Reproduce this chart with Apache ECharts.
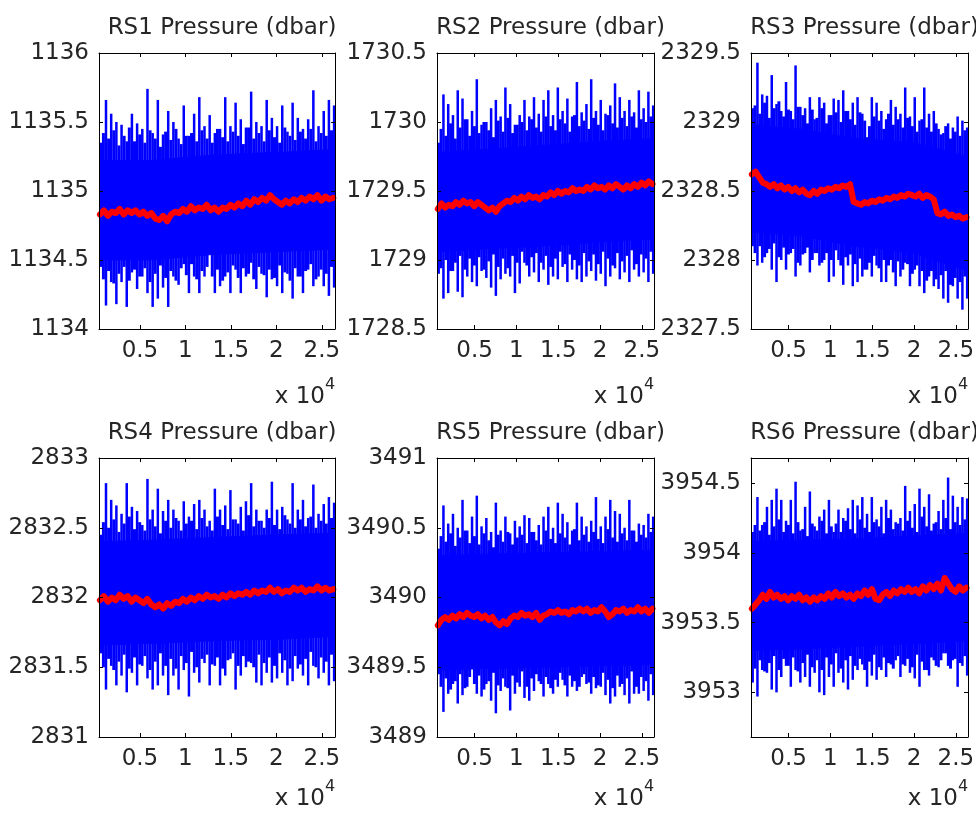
<!DOCTYPE html>
<html><head><meta charset="utf-8">
<script src="https://cdn.jsdelivr.net/npm/echarts@6.0.0/dist/echarts.min.js"></script>
<style>html,body{margin:0;padding:0;background:#fff}#c{width:976px;height:818px}</style>
</head><body><div id="c"></div>
<script>
// ---------- shared sample times ----------
const xMin = 500, xMax = 26450;
const xTicks = [5000, 10000, 15000, 20000, 25000];
const tSpike = [700, 1270, 1840, 2410, 2980, 3550, 4120, 4690, 5260, 5830,
  6400, 6970, 7540, 8110, 8680, 9250, 9820, 10390, 10960, 11530,
  12100, 12670, 13240, 13810, 14380, 14950, 15520, 16090, 16660, 17230,
  17800, 18370, 18940, 19510, 20080, 20650, 21220, 21790, 22360, 22930,
  23500, 24070, 24640, 25210, 25780, 26350];
const tShoulder = [985, 1555, 2125, 2695, 3265, 3835, 4405, 4975, 5545, 6115,
  6685, 7255, 7825, 8395, 8965, 9535, 10105, 10675, 11245, 11815,
  12385, 12955, 13525, 14095, 14665, 15235, 15805, 16375, 16945, 17515,
  18085, 18655, 19225, 19795, 20365, 20935, 21505, 22075, 22645, 23215,
  23785, 24355, 24925, 25495, 26065];
const tRed = [600, 1035, 1470, 1905, 2340, 2775, 3210, 3645, 4080, 4515,
  4950, 5385, 5820, 6255, 6690, 7125, 7560, 7995, 8430, 8865,
  9300, 9735, 10170, 10605, 11040, 11475, 11910, 12345, 12780, 13215,
  13650, 14085, 14520, 14955, 15390, 15825, 16260, 16695, 17130, 17565,
  18000, 18435, 18870, 19305, 19740, 20175, 20610, 21045, 21480, 21915,
  22350, 22785, 23220, 23655, 24090, 24525, 24960, 25395, 25830, 26265];
const tCore = [550, 6000, 13000, 20000, 26400];

// ---------- RS1 ----------
const rs1Range = [1134, 1136];
const rs1Ticks = [1134, 1134.5, 1135, 1135.5, 1136];
const rs1Hi = [1135.35, 1135.66, 1135.56, 1135.5, 1135.48, 1135.36, 1135.56, 1135.49, 1135.45, 1135.74,
  1135.42, 1135.66, 1135.41, 1135.58, 1135.5, 1135.38, 1135.62, 1135.4, 1135.56, 1135.68,
  1135.47, 1135.55, 1135.42, 1135.45, 1135.68, 1135.47, 1135.64, 1135.52, 1135.46, 1135.72,
  1135.5, 1135.47, 1135.66, 1135.53, 1135.47, 1135.62, 1135.43, 1135.64, 1135.53, 1135.45,
  1135.52, 1135.73, 1135.47, 1135.58, 1135.66, 1135.62];
const rs1Lo = [1134.45, 1134.17, 1134.34, 1134.18, 1134.34, 1134.16, 1134.41, 1134.29, 1134.38, 1134.26,
  1134.16, 1134.22, 1134.3, 1134.16, 1134.38, 1134.32, 1134.47, 1134.26, 1134.38, 1134.26,
  1134.38, 1134.55, 1134.26, 1134.31, 1134.38, 1134.26, 1134.43, 1134.26, 1134.38, 1134.48,
  1134.29, 1134.4, 1134.23, 1134.36, 1134.31, 1134.26, 1134.4, 1134.22, 1134.38, 1134.26,
  1134.43, 1134.31, 1134.38, 1134.31, 1134.24, 1134.3];
const rs1Hi2 = [1135.42, 1135.38, 1135.44, 1135.33, 1135.4, 1135.46, 1135.36, 1135.41, 1135.35, 1135.44,
  1135.38, 1135.32, 1135.43, 1135.37, 1135.45, 1135.34, 1135.4, 1135.42, 1135.36, 1135.44,
  1135.38, 1135.35, 1135.45, 1135.39, 1135.36, 1135.43, 1135.4, 1135.34, 1135.46, 1135.38,
  1135.42, 1135.36, 1135.44, 1135.39, 1135.35, 1135.46, 1135.4, 1135.37, 1135.43, 1135.38,
  1135.45, 1135.36, 1135.42, 1135.4, 1135.44];
const rs1Lo2 = [1134.36, 1134.42, 1134.33, 1134.4, 1134.45, 1134.35, 1134.43, 1134.38, 1134.44, 1134.34,
  1134.4, 1134.46, 1134.37, 1134.42, 1134.35, 1134.44, 1134.39, 1134.47, 1134.36, 1134.42,
  1134.45, 1134.38, 1134.43, 1134.35, 1134.41, 1134.46, 1134.37, 1134.44, 1134.4, 1134.36,
  1134.45, 1134.39, 1134.43, 1134.37, 1134.46, 1134.41, 1134.35, 1134.44, 1134.38, 1134.42,
  1134.47, 1134.36, 1134.43, 1134.4, 1134.45];
const rs1CoreHi = [1135.22, 1135.22, 1135.26, 1135.28, 1135.3];
const rs1CoreLo = [1134.5, 1134.5, 1134.54, 1134.56, 1134.58];
const rs1Red = [1134.83, 1134.86, 1134.82, 1134.85, 1134.84, 1134.87, 1134.83, 1134.86, 1134.84, 1134.86,
  1134.83, 1134.85, 1134.82, 1134.84, 1134.8, 1134.79, 1134.82, 1134.78, 1134.83, 1134.85,
  1134.84, 1134.87, 1134.85, 1134.89, 1134.86, 1134.88, 1134.87, 1134.9, 1134.86, 1134.88,
  1134.85, 1134.88, 1134.87, 1134.9, 1134.88, 1134.91, 1134.89, 1134.93, 1134.9, 1134.94,
  1134.92, 1134.95, 1134.93, 1134.97, 1134.94, 1134.92, 1134.9, 1134.93, 1134.91, 1134.94,
  1134.92, 1134.95, 1134.93, 1134.96, 1134.94, 1134.97, 1134.93, 1134.96, 1134.94, 1134.95];

// ---------- RS2 ----------
const rs2Range = [1728.5, 1730.5];
const rs2Ticks = [1728.5, 1729, 1729.5, 1730, 1730.5];
const rs2Hi = [1729.85, 1730.2, 1730.13, 1730.05, 1730.23, 1730.17, 1730.02, 1730.08, 1730.31, 1729.98,
  1730.0, 1730.1, 1730.16, 1730.04, 1730.25, 1730.13, 1729.98, 1730.05, 1730.16, 1730.04,
  1730.18, 1730.06, 1730.16, 1730.23, 1730.05, 1730.25, 1730.08, 1730.17, 1730.04, 1730.29,
  1730.07, 1730.13, 1730.31, 1730.08, 1730.16, 1730.06, 1730.12, 1730.28, 1730.18, 1730.08,
  1730.16, 1730.07, 1730.23, 1730.1, 1730.22, 1730.12];
const rs2Lo = [1728.9, 1728.72, 1728.76, 1728.92, 1728.77, 1728.73, 1728.88, 1728.84, 1728.81, 1728.92,
  1728.87, 1728.8, 1728.74, 1728.86, 1728.9, 1728.88, 1728.76, 1728.83, 1728.98, 1728.88,
  1728.91, 1728.84, 1728.93, 1728.82, 1728.88, 1728.86, 1728.95, 1728.84, 1728.93, 1728.86,
  1728.84, 1728.88, 1728.92, 1728.85, 1728.9, 1728.81, 1728.88, 1728.94, 1728.86, 1728.91,
  1728.84, 1728.93, 1728.88, 1728.91, 1728.84, 1728.9];
const rs2Hi2 = [1729.95, 1729.9, 1729.99, 1729.88, 1729.96, 1730.02, 1729.9, 1729.97, 1729.92, 1730.0,
  1729.94, 1729.89, 1730.01, 1729.93, 1730.03, 1729.92, 1729.98, 1730.0, 1729.94, 1730.02,
  1729.96, 1729.93, 1730.04, 1729.97, 1729.94, 1730.02, 1729.99, 1729.93, 1730.05, 1729.97,
  1730.01, 1729.95, 1730.03, 1729.98, 1729.94, 1730.05, 1729.99, 1729.96, 1730.03, 1729.97,
  1730.04, 1729.96, 1730.02, 1730.0, 1730.04];
const rs2Lo2 = [1728.94, 1729.0, 1728.92, 1728.98, 1729.03, 1728.93, 1729.01, 1728.96, 1729.02, 1728.93,
  1728.99, 1729.04, 1728.95, 1729.01, 1728.94, 1729.03, 1728.98, 1729.06, 1728.96, 1729.02,
  1729.05, 1728.98, 1729.03, 1728.95, 1729.01, 1729.06, 1728.97, 1729.04, 1729.0, 1728.96,
  1729.05, 1728.99, 1729.04, 1728.97, 1729.06, 1729.01, 1728.96, 1729.05, 1728.99, 1729.03,
  1729.07, 1728.97, 1729.04, 1729.01, 1729.06];
const rs2CoreHi = [1729.78, 1729.8, 1729.83, 1729.86, 1729.88];
const rs2CoreLo = [1729.06, 1729.08, 1729.1, 1729.13, 1729.15];
const rs2Red = [1729.37, 1729.41, 1729.38, 1729.4, 1729.39, 1729.42, 1729.4, 1729.43, 1729.41, 1729.42,
  1729.39, 1729.42, 1729.4, 1729.38, 1729.36, 1729.38, 1729.35, 1729.39, 1729.41, 1729.43,
  1729.42, 1729.45, 1729.43, 1729.46, 1729.44, 1729.47, 1729.45, 1729.46, 1729.44, 1729.47,
  1729.46, 1729.49, 1729.47, 1729.5, 1729.48, 1729.5, 1729.49, 1729.52, 1729.5, 1729.51,
  1729.5, 1729.53, 1729.51, 1729.54, 1729.52, 1729.53, 1729.51, 1729.54, 1729.52, 1729.55,
  1729.53, 1729.51, 1729.54, 1729.52, 1729.55, 1729.53, 1729.56, 1729.54, 1729.57, 1729.55];

// ---------- RS3 ----------
const rs3Range = [2327.5, 2329.5];
const rs3Ticks = [2327.5, 2328, 2328.5, 2329, 2329.5];
const rs3Hi = [2329.1, 2329.43, 2329.2, 2329.19, 2329.34, 2329.13, 2329.08, 2329.29, 2329.08, 2329.41,
  2329.11, 2329.1, 2329.18, 2329.02, 2329.18, 2329.14, 2329.05, 2329.17, 2329.16, 2329.23,
  2329.08, 2329.14, 2329.18, 2329.06, 2328.89, 2329.18, 2329.14, 2329.08, 2329.02, 2329.16,
  2329.11, 2329.06, 2329.25, 2329.04, 2329.18, 2329.01, 2329.25, 2329.06, 2329.08, 2328.95,
  2328.92, 2328.99, 2328.96, 2329.04, 2329.01, 2328.96];
const rs3Lo = [2328.1, 2327.96, 2327.98, 2328.05, 2327.93, 2327.84, 2328.0, 2327.93, 2328.05, 2327.88,
  2327.96, 2328.05, 2327.91, 2328.05, 2327.96, 2328.0, 2327.84, 2327.88, 2328.0, 2327.82,
  2327.96, 2327.81, 2327.84, 2327.88, 2327.93, 2327.88, 2327.96, 2327.84, 2327.84, 2328.0,
  2327.81, 2327.88, 2327.98, 2327.81, 2327.93, 2327.81, 2327.76, 2327.88, 2327.81, 2327.79,
  2327.72, 2327.69, 2327.81, 2327.72, 2327.64, 2327.72];
const rs3Hi2 = [2329.12, 2329.06, 2329.14, 2329.03, 2329.1, 2329.15, 2329.04, 2329.09, 2329.02, 2329.11,
  2329.05, 2328.99, 2329.09, 2329.03, 2329.1, 2328.99, 2329.05, 2329.07, 2329.0, 2329.08,
  2329.02, 2328.98, 2329.07, 2329.01, 2328.97, 2329.04, 2329.01, 2328.95, 2329.06, 2328.98,
  2329.02, 2328.96, 2329.03, 2328.97, 2328.93, 2329.02, 2328.96, 2328.93, 2328.99, 2328.91,
  2328.97, 2328.88, 2328.93, 2328.9, 2328.94];
const rs3Lo2 = [2328.05, 2328.1, 2328.02, 2328.08, 2328.12, 2328.02, 2328.09, 2328.04, 2328.08, 2327.98,
  2328.04, 2328.09, 2328.0, 2328.05, 2327.98, 2328.05, 2328.0, 2328.07, 2327.96, 2328.02,
  2328.04, 2327.97, 2328.01, 2327.93, 2327.98, 2328.03, 2327.94, 2328.0, 2327.96, 2327.91,
  2327.99, 2327.93, 2327.97, 2327.9, 2327.96, 2327.92, 2327.85, 2327.92, 2327.86, 2327.89,
  2327.92, 2327.82, 2327.87, 2327.84, 2327.88];
const rs3CoreHi = [2328.98, 2328.95, 2328.88, 2328.85, 2328.75];
const rs3CoreLo = [2328.2, 2328.18, 2328.1, 2328.05, 2327.92];
const rs3Red = [2328.62, 2328.64, 2328.6, 2328.56, 2328.55, 2328.53, 2328.55, 2328.52, 2328.54, 2328.51,
  2328.53, 2328.5, 2328.52, 2328.49, 2328.51, 2328.48, 2328.47, 2328.5, 2328.48, 2328.51,
  2328.5, 2328.52, 2328.51, 2328.53, 2328.52, 2328.54, 2328.53, 2328.55, 2328.42, 2328.41,
  2328.4, 2328.42, 2328.41, 2328.43, 2328.42, 2328.44, 2328.43, 2328.45, 2328.44, 2328.46,
  2328.45, 2328.47, 2328.46, 2328.48, 2328.47, 2328.46, 2328.48, 2328.45, 2328.47, 2328.46,
  2328.44, 2328.34, 2328.33, 2328.35, 2328.32, 2328.33, 2328.31, 2328.32, 2328.3, 2328.31];

// ---------- RS4 ----------
const rs4Range = [2831, 2833];
const rs4Ticks = [2831, 2831.5, 2832, 2832.5, 2833];
const rs4Hi = [2832.45, 2832.82, 2832.7, 2832.66, 2832.6, 2832.82, 2832.65, 2832.62, 2832.52, 2832.85,
  2832.63, 2832.78, 2832.62, 2832.7, 2832.63, 2832.55, 2832.69, 2832.58, 2832.67, 2832.7,
  2832.63, 2832.55, 2832.78, 2832.63, 2832.66, 2832.77, 2832.56, 2832.65, 2832.69, 2832.82,
  2832.63, 2832.55, 2832.63, 2832.83, 2832.63, 2832.65, 2832.56, 2832.82, 2832.63, 2832.7,
  2832.57, 2832.81, 2832.6, 2832.67, 2832.72, 2832.68];
const rs4Lo = [2831.6, 2831.34, 2831.51, 2831.37, 2831.44, 2831.32, 2831.46, 2831.37, 2831.51, 2831.42,
  2831.34, 2831.37, 2831.44, 2831.3, 2831.44, 2831.34, 2831.48, 2831.29, 2831.46, 2831.39,
  2831.53, 2831.37, 2831.51, 2831.37, 2831.44, 2831.56, 2831.34, 2831.44, 2831.5, 2831.53,
  2831.39, 2831.37, 2831.46, 2831.39, 2831.42, 2831.46, 2831.37, 2831.4, 2831.49, 2831.44,
  2831.37, 2831.51, 2831.42, 2831.46, 2831.37, 2831.4];
const rs4Hi2 = [2832.54, 2832.5, 2832.56, 2832.47, 2832.53, 2832.58, 2832.49, 2832.54, 2832.48, 2832.56,
  2832.51, 2832.46, 2832.55, 2832.5, 2832.57, 2832.48, 2832.53, 2832.55, 2832.49, 2832.57,
  2832.51, 2832.48, 2832.58, 2832.52, 2832.49, 2832.56, 2832.53, 2832.48, 2832.59, 2832.51,
  2832.55, 2832.5, 2832.57, 2832.52, 2832.49, 2832.59, 2832.53, 2832.5, 2832.56, 2832.51,
  2832.58, 2832.5, 2832.55, 2832.53, 2832.57];
const rs4Lo2 = [2831.5, 2831.56, 2831.48, 2831.54, 2831.59, 2831.49, 2831.57, 2831.52, 2831.58, 2831.48,
  2831.54, 2831.6, 2831.51, 2831.56, 2831.49, 2831.58, 2831.53, 2831.61, 2831.5, 2831.56,
  2831.59, 2831.52, 2831.57, 2831.49, 2831.55, 2831.6, 2831.51, 2831.58, 2831.54, 2831.5,
  2831.59, 2831.53, 2831.57, 2831.51, 2831.6, 2831.55, 2831.49, 2831.58, 2831.52, 2831.56,
  2831.61, 2831.5, 2831.57, 2831.54, 2831.59];
const rs4CoreHi = [2832.4, 2832.41, 2832.43, 2832.45, 2832.46];
const rs4CoreLo = [2831.66, 2831.67, 2831.69, 2831.7, 2831.72];
const rs4Red = [2831.98, 2832.01, 2831.97, 2832.0, 2831.98, 2832.02, 2831.99, 2832.01, 2831.97, 2832.0,
  2831.98, 2831.96, 2831.99, 2831.95, 2831.93, 2831.95, 2831.92, 2831.96, 2831.94, 2831.97,
  2831.96, 2831.99, 2831.97, 2832.0, 2831.98, 2832.01, 2831.99, 2832.02, 2832.0, 2832.01,
  2831.99, 2832.02, 2832.0, 2832.03, 2832.01, 2832.03, 2832.02, 2832.04, 2832.02, 2832.05,
  2832.03, 2832.05, 2832.04, 2832.07, 2832.04, 2832.06, 2832.03, 2832.05, 2832.04, 2832.07,
  2832.05, 2832.07, 2832.04, 2832.06, 2832.05, 2832.08, 2832.05, 2832.07, 2832.05, 2832.06];

// ---------- RS5 ----------
const rs5Range = [3489, 3491];
const rs5Ticks = [3489, 3489.5, 3490, 3490.5, 3491];
const rs5Hi = [3490.35, 3490.66, 3490.53, 3490.6, 3490.5, 3490.7, 3490.48, 3490.58, 3490.73, 3490.51,
  3490.57, 3490.47, 3490.68, 3490.48, 3490.58, 3490.46, 3490.55, 3490.51, 3490.59, 3490.57,
  3490.47, 3490.52, 3490.58, 3490.65, 3490.5, 3490.68, 3490.6, 3490.54, 3490.48, 3490.68,
  3490.58, 3490.51, 3490.55, 3490.72, 3490.51, 3490.58, 3490.7, 3490.62, 3490.6, 3490.5,
  3490.7, 3490.48, 3490.53, 3490.52, 3490.6, 3490.58];
const rs5Lo = [3489.45, 3489.18, 3489.31, 3489.38, 3489.24, 3489.3, 3489.36, 3489.5, 3489.31, 3489.29,
  3489.38, 3489.26, 3489.17, 3489.33, 3489.36, 3489.19, 3489.31, 3489.36, 3489.28, 3489.26,
  3489.33, 3489.4, 3489.29, 3489.38, 3489.31, 3489.36, 3489.41, 3489.29, 3489.36, 3489.33,
  3489.43, 3489.38, 3489.31, 3489.35, 3489.36, 3489.3, 3489.24, 3489.29, 3489.36, 3489.3,
  3489.24, 3489.31, 3489.31, 3489.33, 3489.26, 3489.3];
const rs5Hi2 = [3490.44, 3490.4, 3490.46, 3490.37, 3490.43, 3490.48, 3490.39, 3490.44, 3490.38, 3490.46,
  3490.41, 3490.36, 3490.45, 3490.4, 3490.47, 3490.38, 3490.43, 3490.45, 3490.39, 3490.47,
  3490.41, 3490.38, 3490.48, 3490.42, 3490.39, 3490.46, 3490.43, 3490.38, 3490.49, 3490.41,
  3490.45, 3490.4, 3490.47, 3490.42, 3490.39, 3490.49, 3490.43, 3490.4, 3490.46, 3490.41,
  3490.48, 3490.4, 3490.45, 3490.43, 3490.47];
const rs5Lo2 = [3489.36, 3489.42, 3489.34, 3489.4, 3489.45, 3489.35, 3489.43, 3489.38, 3489.44, 3489.34,
  3489.4, 3489.46, 3489.37, 3489.42, 3489.35, 3489.44, 3489.39, 3489.47, 3489.36, 3489.42,
  3489.45, 3489.38, 3489.43, 3489.35, 3489.41, 3489.46, 3489.37, 3489.44, 3489.4, 3489.36,
  3489.45, 3489.39, 3489.43, 3489.37, 3489.46, 3489.41, 3489.35, 3489.44, 3489.38, 3489.42,
  3489.47, 3489.36, 3489.43, 3489.4, 3489.45];
const rs5CoreHi = [3490.3, 3490.31, 3490.32, 3490.33, 3490.34];
const rs5CoreLo = [3489.48, 3489.49, 3489.5, 3489.51, 3489.52];
const rs5Red = [3489.8, 3489.84, 3489.86, 3489.84, 3489.87, 3489.85, 3489.88, 3489.86, 3489.89, 3489.87,
  3489.86, 3489.88, 3489.85, 3489.87, 3489.84, 3489.86, 3489.82, 3489.8, 3489.83, 3489.81,
  3489.85, 3489.87, 3489.86, 3489.89, 3489.87, 3489.88, 3489.86, 3489.89, 3489.84, 3489.87,
  3489.88, 3489.9, 3489.89, 3489.91, 3489.89, 3489.9, 3489.88, 3489.91, 3489.9, 3489.92,
  3489.9, 3489.92, 3489.89, 3489.91, 3489.9, 3489.93, 3489.9, 3489.86, 3489.88, 3489.91,
  3489.9, 3489.92, 3489.89, 3489.91, 3489.9, 3489.93, 3489.9, 3489.92, 3489.89, 3489.92];

// ---------- RS6 ----------
const rs6Range = [3952.68, 3954.68];
const rs6Ticks = [3953, 3953.5, 3954, 3954.5];
const rs6Hi = [3954.15, 3954.4, 3954.2, 3954.33, 3954.38, 3954.46, 3954.38, 3954.23, 3954.38, 3954.51,
  3954.16, 3954.33, 3954.44, 3954.19, 3954.26, 3954.31, 3954.38, 3954.15, 3954.31, 3954.25,
  3954.32, 3954.38, 3954.34, 3954.4, 3954.28, 3954.4, 3954.24, 3954.33, 3954.38, 3954.31,
  3954.22, 3954.25, 3954.48, 3954.3, 3954.35, 3954.46, 3954.33, 3954.42, 3954.21, 3954.3,
  3954.38, 3954.54, 3954.41, 3954.33, 3954.4, 3954.39];
const rs6Lo = [3953.07, 3952.97, 3953.16, 3953.14, 3953.02, 3953.0, 3953.11, 3953.19, 3953.04, 3953.16,
  3953.07, 3953.11, 3953.04, 3953.14, 3953.0, 3952.98, 3953.11, 3953.04, 3953.14, 3953.07,
  3953.02, 3953.09, 3953.16, 3953.2, 3953.04, 3953.12, 3953.09, 3953.16, 3953.11, 3953.2,
  3953.23, 3953.11, 3953.19, 3953.14, 3953.1, 3953.04, 3953.16, 3953.12, 3953.23, 3953.18,
  3953.28, 3953.19, 3953.23, 3953.04, 3953.19, 3953.12];
const rs6Hi2 = [3954.2, 3954.16, 3954.22, 3954.13, 3954.19, 3954.24, 3954.15, 3954.2, 3954.14, 3954.22,
  3954.17, 3954.12, 3954.21, 3954.16, 3954.23, 3954.14, 3954.19, 3954.21, 3954.15, 3954.23,
  3954.17, 3954.14, 3954.24, 3954.18, 3954.15, 3954.22, 3954.19, 3954.14, 3954.25, 3954.17,
  3954.21, 3954.16, 3954.23, 3954.18, 3954.15, 3954.26, 3954.19, 3954.16, 3954.22, 3954.17,
  3954.25, 3954.17, 3954.22, 3954.2, 3954.24];
const rs6Lo2 = [3953.17, 3953.23, 3953.15, 3953.21, 3953.26, 3953.16, 3953.24, 3953.19, 3953.25, 3953.15,
  3953.21, 3953.27, 3953.18, 3953.23, 3953.16, 3953.25, 3953.2, 3953.28, 3953.17, 3953.23,
  3953.26, 3953.19, 3953.24, 3953.16, 3953.22, 3953.27, 3953.18, 3953.25, 3953.21, 3953.17,
  3953.26, 3953.2, 3953.24, 3953.18, 3953.27, 3953.22, 3953.16, 3953.25, 3953.19, 3953.23,
  3953.28, 3953.17, 3953.24, 3953.21, 3953.26];
const rs6CoreHi = [3954.08, 3954.09, 3954.1, 3954.12, 3954.14];
const rs6CoreLo = [3953.3, 3953.31, 3953.33, 3953.35, 3953.37];
const rs6Red = [3953.6, 3953.63, 3953.66, 3953.7, 3953.67, 3953.72, 3953.68, 3953.7, 3953.67, 3953.69,
  3953.66, 3953.69, 3953.67, 3953.7, 3953.66, 3953.68, 3953.65, 3953.68, 3953.66, 3953.69,
  3953.67, 3953.71, 3953.68, 3953.72, 3953.69, 3953.71, 3953.68, 3953.7, 3953.67, 3953.71,
  3953.69, 3953.73, 3953.7, 3953.74, 3953.67, 3953.66, 3953.7, 3953.72, 3953.69, 3953.73,
  3953.71, 3953.74, 3953.72, 3953.75, 3953.72, 3953.74, 3953.71, 3953.76, 3953.73, 3953.77,
  3953.74, 3953.78, 3953.73, 3953.82, 3953.78, 3953.74, 3953.72, 3953.76, 3953.73, 3953.75];

const titles = ['RS1 Pressure (dbar)', 'RS2 Pressure (dbar)', 'RS3 Pressure (dbar)',
  'RS4 Pressure (dbar)', 'RS5 Pressure (dbar)', 'RS6 Pressure (dbar)'];

// ---------- layout (pixels) ----------
const layout = [
  {left: 99, top: 53, width: 236, height: 276, expY: 397},
  {left: 437, top: 53, width: 217, height: 276, expY: 397},
  {left: 751, top: 53, width: 217, height: 276, expY: 397},
  {left: 99, top: 458, width: 236, height: 279, expY: 799},
  {left: 437, top: 458, width: 217, height: 279, expY: 799},
  {left: 751, top: 458, width: 217, height: 279, expY: 799}
];

const panels = [
  {range: rs1Range, ticks: rs1Ticks, hi: rs1Hi, lo: rs1Lo, hi2: rs1Hi2, lo2: rs1Lo2, coreHi: rs1CoreHi, coreLo: rs1CoreLo, red: rs1Red},
  {range: rs2Range, ticks: rs2Ticks, hi: rs2Hi, lo: rs2Lo, hi2: rs2Hi2, lo2: rs2Lo2, coreHi: rs2CoreHi, coreLo: rs2CoreLo, red: rs2Red},
  {range: rs3Range, ticks: rs3Ticks, hi: rs3Hi, lo: rs3Lo, hi2: rs3Hi2, lo2: rs3Lo2, coreHi: rs3CoreHi, coreLo: rs3CoreLo, red: rs3Red},
  {range: rs4Range, ticks: rs4Ticks, hi: rs4Hi, lo: rs4Lo, hi2: rs4Hi2, lo2: rs4Lo2, coreHi: rs4CoreHi, coreLo: rs4CoreLo, red: rs4Red},
  {range: rs5Range, ticks: rs5Ticks, hi: rs5Hi, lo: rs5Lo, hi2: rs5Hi2, lo2: rs5Lo2, coreHi: rs5CoreHi, coreLo: rs5CoreLo, red: rs5Red},
  {range: rs6Range, ticks: rs6Ticks, hi: rs6Hi, lo: rs6Lo, hi2: rs6Hi2, lo2: rs6Lo2, coreHi: rs6CoreHi, coreLo: rs6CoreLo, red: rs6Red}
];

const FONT = "'DejaVu Sans', sans-serif";
const TXT = '#262626';
const BLUE = '#0000ff', RED = '#ff0000';

const option = {animation: false, backgroundColor: '#fff', title: [], grid: [], xAxis: [], yAxis: [], series: [], graphic: []};

function spikeSeries(g, times, lo, hi, width) {
  return {type: 'custom', xAxisIndex: 2 * g, yAxisIndex: 2 * g, clip: true, silent: true,
    data: times.map((t, i) => [t, lo[i], hi[i]]),
    encode: {x: 0, y: [1, 2]},
    renderItem: (params, api) => {
      const a = api.coord([api.value(0), api.value(1)]);
      const b = api.coord([api.value(0), api.value(2)]);
      return {type: 'line', shape: {x1: a[0], y1: a[1], x2: b[0], y2: b[1]}, style: {stroke: BLUE, lineWidth: width}};
    }};
}

panels.forEach((p, g) => {
  const L = layout[g];
  option.grid.push({left: L.left, top: L.top, width: L.width, height: L.height, containLabel: false, outerBoundsMode: 'none', show: false});
  option.title.push({text: titles[g], left: L.left + L.width / 2, top: L.top - 41, textAlign: 'center',
    textStyle: {fontFamily: FONT, fontSize: 23, fontWeight: 'normal', color: TXT}});
  const line = {show: true, onZero: false, lineStyle: {color: '#000', width: 1}};
  const tickX = {show: true, inside: true, length: 4, customValues: xTicks, lineStyle: {color: '#000', width: 1}};
  const tickY = {show: true, inside: true, length: 4, customValues: p.ticks, lineStyle: {color: '#000', width: 1}};
  option.xAxis.push({type: 'value', gridIndex: g, position: 'bottom', min: xMin, max: xMax, z: 10,
    axisLine: line, axisTick: tickX, splitLine: {show: false},
    axisLabel: {show: true, customValues: xTicks, formatter: v => String(v / 1e4), margin: 11,
      fontFamily: FONT, fontSize: 23, color: TXT}});
  option.xAxis.push({type: 'value', gridIndex: g, position: 'top', min: xMin, max: xMax, z: 10,
    axisLine: line, axisTick: tickX, splitLine: {show: false}, axisLabel: {show: false}});
  option.yAxis.push({type: 'value', gridIndex: g, position: 'left', min: p.range[0], max: p.range[1], z: 10,
    axisLine: line, axisTick: tickY, splitLine: {show: false},
    axisLabel: {show: true, customValues: p.ticks, formatter: v => String(v), margin: 10,
      fontFamily: FONT, fontSize: 23, color: TXT}});
  option.yAxis.push({type: 'value', gridIndex: g, position: 'right', min: p.range[0], max: p.range[1], z: 10,
    axisLine: line, axisTick: tickY, splitLine: {show: false}, axisLabel: {show: false}});

  // dense core band of the raw signal
  option.series.push({type: 'custom', xAxisIndex: 2 * g, yAxisIndex: 2 * g, clip: true, silent: true,
    data: tCore.map((t, i) => [t, p.coreLo[i], p.coreHi[i]]),
    encode: {x: 0, y: [1, 2]},
    renderItem: (params, api) => {
      const i = params.dataIndex;
      if (i >= tCore.length - 1) return null;
      const a = api.coord([tCore[i], p.coreHi[i]]);
      const b = api.coord([tCore[i + 1], p.coreHi[i + 1]]);
      const c = api.coord([tCore[i + 1], p.coreLo[i + 1]]);
      const d = api.coord([tCore[i], p.coreLo[i]]);
      return {type: 'polygon', shape: {points: [a, b, c, d]}, style: {fill: BLUE, stroke: BLUE, lineWidth: 1}};
    }});
  // tidal extremes and secondary maxima/minima of the raw signal
  option.series.push(spikeSeries(g, tShoulder, p.lo2, p.hi2, 3));
  option.series.push(spikeSeries(g, tSpike, p.lo, p.hi, 2.5));
  // low-passed series
  option.series.push({type: 'line', xAxisIndex: 2 * g, yAxisIndex: 2 * g, silent: true, symbol: 'none',
    data: tRed.map((t, i) => [t, p.red[i]]),
    lineStyle: {color: RED, width: 6, join: 'round', cap: 'round'}, itemStyle: {color: RED}});

  const right = L.left + L.width;
  option.graphic.push({type: 'text', x: right - 10, y: L.expY,
    style: {text: 'x 10', fontFamily: FONT, fontSize: 23, fill: TXT, align: 'right', verticalAlign: 'middle'}});
  option.graphic.push({type: 'text', x: right - 10, y: L.expY - 12,
    style: {text: '4', fontFamily: FONT, fontSize: 16, fill: TXT, align: 'left', verticalAlign: 'middle'}});
});

const chart = echarts.init(document.getElementById('c'), null, {renderer: 'canvas'});
chart.setOption(option);
</script>
</body></html>
